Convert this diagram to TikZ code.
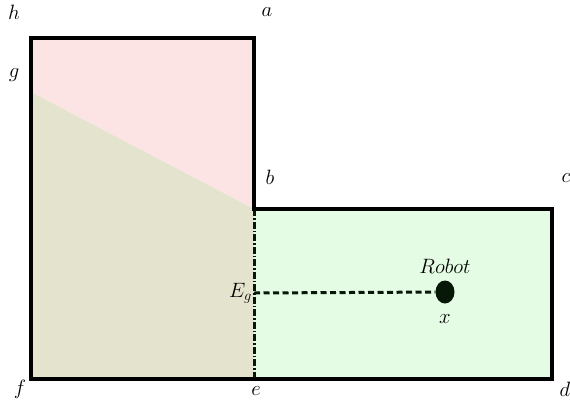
\documentclass[tikz,border=0pt]{standalone}
\usetikzlibrary{positioning,shapes.geometric}
\definecolor{pinkzone}{RGB}{253,228,228}
\definecolor{olivezone}{RGB}{228,228,206}
\definecolor{greenzone}{RGB}{228,252,228}
\definecolor{darkink}{RGB}{8,24,8}
\begin{document}
\begin{tikzpicture}[x=1pt,y=-1pt,font=\huge,
  wall/.style={draw,line width=3.1pt,line join=miter},
  split/.style={darkink,line width=3pt,dash pattern=on 7pt off 2pt on 1.5pt off 2pt},
  reach/.style={darkink,line width=3pt,dash pattern=on 6pt off 3.5pt},
  robot/.style={ellipse,fill=darkink,minimum width=19pt,minimum height=23pt,inner sep=0pt},
  lbl/.style={inner sep=1pt}]
\useasboundingbox (0,0) rectangle (570,402);
% corners of the room
\coordinate (h) at (31,38);
\coordinate (a) at (254,38);
\coordinate (b) at (254,209);
\coordinate (c) at (552,209);
\coordinate (d) at (552,379);
\coordinate (e) at (254,379);
\coordinate (f) at (31,379);
\coordinate (g) at (31,92);
% zones
\fill[pinkzone] (h)--(a)--(b)--(g)--cycle;
\fill[olivezone] (g)--(b)--(e)--(f)--cycle;
\fill[greenzone] (b)--(c)--(d)--(e)--cycle;
\draw[split] (b)--(e);
\draw[wall] (h)--(a)--(b)--(c)--(d)--(f)--cycle;
% corner labels
\node[lbl] (lh) at (14,12) {$h$};
\node[lbl] (la) at (267,12) {$a$};
\node[lbl] (lg) at (14,75) {$g$};
\node[lbl] (lb) at (270,177) {$b$};
\node[lbl] (lc) at (566,178) {$c$};
\node[lbl] (ld) at (565,389) {$d$};
\node[lbl] (le) at (256,391) {$e$};
\node[lbl] (lf) at (20,389) {$f$};
% robot and its exit point
\node[robot] (bot) at (445,292) {};
\node[lbl,above=6pt of bot] (name) {$Robot$};
\node[lbl,below=10pt of bot] (pos) {$x$};
\coordinate (eg) at (254,293);
\node[lbl,left=1pt of eg] (exit) {$E_g$};
\draw[reach] (eg)--(bot);
\end{tikzpicture}
\end{document}
